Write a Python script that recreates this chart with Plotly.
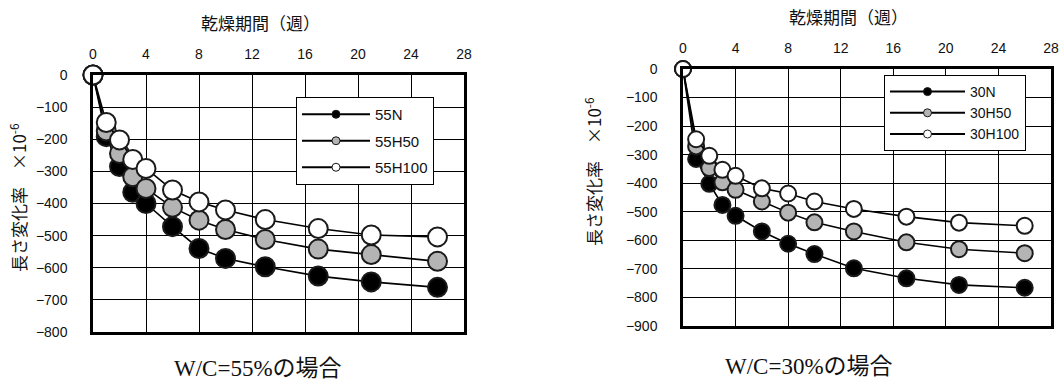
import plotly.graph_objects as go

weeks = [0, 1, 2, 3, 4, 6, 8, 10, 13, 17, 21, 26]

# W/C = 55%
s55N = [0, -192, -285, -365, -400, -472, -540, -571, -597, -626, -644, -661]
s55H50 = [0, -174, -244, -317, -353, -412, -452, -481, -512, -542, -559, -580]
s55H100 = [0, -148, -202, -263, -291, -358, -395, -420, -450, -478, -498, -504]

# W/C = 30%
s30N = [0, -315, -402, -476, -514, -569, -612, -648, -698, -733, -756, -766]
s30H50 = [0, -271, -347, -397, -423, -464, -503, -537, -569, -607, -631, -645]
s30H100 = [0, -246, -304, -353, -374, -418, -436, -464, -490, -517, -538, -549]

names55 = ["55N", "55H50", "55H100"]
names30 = ["30N", "30H50", "30H100"]
fills = ["#000000", "#b4b4b4", "#ffffff"]

x_ticks = [0, 4, 8, 12, 16, 20, 24, 28]
y_ticks55 = list(range(0, -900, -100))
y_ticks30 = list(range(0, -1000, -100))

x_title = "乾燥期間（週）"
y_title = "長さ変化率　×10<sup>-6</sup>"
cap55 = ("<span style=\"font-family:'Liberation Serif'\">W/C=55%</span>"
         "<span style=\"font-family:'Noto Sans CJK JP'\">の場合</span>")
cap30 = ("<span style=\"font-family:'Liberation Serif'\">W/C=30%</span>"
         "<span style=\"font-family:'Noto Sans CJK JP'\">の場合</span>")

TICKFONT = dict(family="Liberation Sans Narrow, Liberation Sans, Arial", size=14, color="#111")
JPFONT = dict(family="Noto Sans CJK JP", size=17, color="#111")
LEGFONT = "Liberation Sans Narrow, Liberation Sans, Arial"

fig = go.Figure()

def add_series(series_list, names, xa, ya, legend, msize):
    for vals, nm, fc in zip(series_list, names, fills):
        fig.add_trace(go.Scatter(
            x=weeks, y=vals, mode="lines+markers", name=nm,
            xaxis=xa, yaxis=ya, showlegend=False, cliponaxis=False,
            line=dict(color="#000", width=1.6),
            marker=dict(size=msize, color=fc, line=dict(color="#1a1a1a", width=2)),
        ))
    for nm, fc in zip(names, fills):
        fig.add_trace(go.Scatter(
            x=[None], y=[None], mode="lines+markers", name=nm,
            xaxis=xa, yaxis=ya, legend=legend, legendgroup=nm,
            line=dict(color="#000", width=2),
            marker=dict(size=8, color=fc, line=dict(color="#1a1a1a", width=1)),
        ))

add_series([s55N, s55H50, s55H100], names55, "x", "y", "legend", 19)
add_series([s30N, s30H50, s30H100], names30, "x2", "y2", "legend2", 16)

axis_common = dict(
    showline=True, mirror=True, linecolor="#000", linewidth=2.5,
    showgrid=True, gridcolor="#000", gridwidth=1.2,
    zeroline=False, ticks="", tickfont=TICKFONT, automargin=False,
)

fig.update_layout(
    width=1062, height=382,
    margin=dict(l=0, r=0, t=0, b=0),
    paper_bgcolor="white", plot_bgcolor="white",
    xaxis=dict(domain=[93/1062, 464/1062], range=[0, 28], tickvals=x_ticks,
               side="top", anchor="y", ticklabelstandoff=8, **axis_common),
    yaxis=dict(domain=[1-332/382, 1-75/382], range=[-800, 0], tickvals=y_ticks55,
               anchor="x", ticklabelstandoff=20, **axis_common),
    xaxis2=dict(domain=[683/1062, 1051/1062], range=[0, 28], tickvals=x_ticks,
                side="top", anchor="y2", ticklabelstandoff=8, **axis_common),
    yaxis2=dict(domain=[1-326/382, 1-69/382], range=[-900, 0], tickvals=y_ticks30,
                anchor="x2", ticklabelstandoff=20, **axis_common),
    legend=dict(x=296/1062, y=1-97/382, xanchor="left", yanchor="top",
                bgcolor="white", bordercolor="#000", borderwidth=1,
                font=dict(family=LEGFONT, size=15, color="#111"),
                tracegroupgap=4, itemwidth=68),
    legend2=dict(x=884/1062, y=1-75/382, xanchor="left", yanchor="top",
                 bgcolor="white", bordercolor="#000", borderwidth=1,
                 font=dict(family=LEGFONT, size=14, color="#111"),
                 tracegroupgap=0, itemwidth=75),
)

annots = [
    dict(text=x_title, x=260/1062, y=1-22/382, font=JPFONT),
    dict(text=x_title, x=848/1062, y=1-16/382, font=JPFONT),
    dict(text=y_title, x=18/1062, y=1-198/382, textangle=-90, font=JPFONT),
    dict(text=y_title, x=593/1062, y=1-172/382, textangle=-90, font=JPFONT),
    dict(text=cap55, x=258/1062, y=1-366/382, font=dict(size=23, color="#111")),
    dict(text=cap30, x=809/1062, y=1-364/382, font=dict(size=23, color="#111")),
]
for a in annots:
    fig.add_annotation(xref="paper", yref="paper", showarrow=False,
                       xanchor="center", yanchor="middle", **a)

fig.write_html("out.html", config={"displayModeBar": False},
               post_script="document.body.style.margin='0px';document.body.style.overflow='hidden';")
